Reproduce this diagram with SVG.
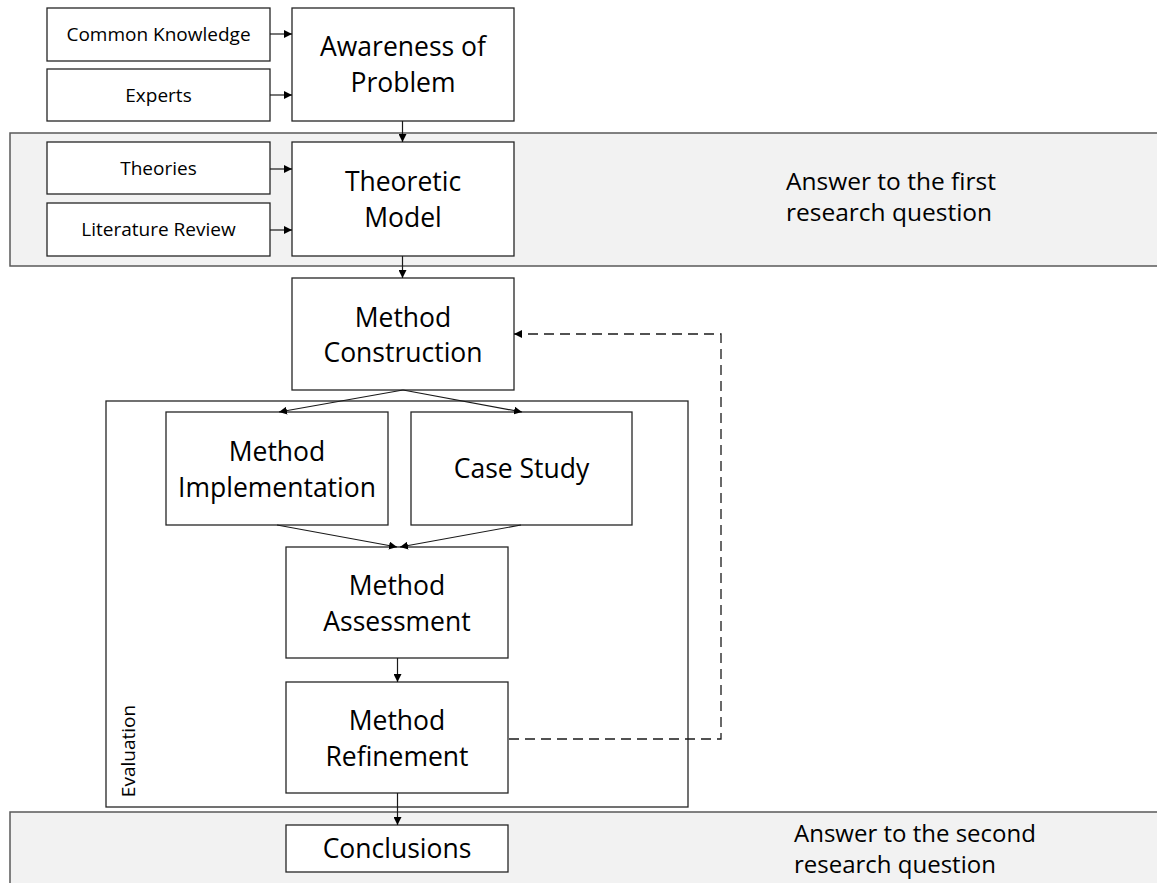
<svg xmlns="http://www.w3.org/2000/svg" width="1157" height="883" viewBox="0 0 1157 883">
  <defs>
    <marker id="arrow" viewBox="0 0 10 10" refX="10" refY="5" markerWidth="8" markerHeight="8" markerUnits="userSpaceOnUse" orient="auto">
      <path d="M0,0 L10,5 L0,10 z" fill="#000"/>
    </marker>
    <style>
      .band { fill: #f2f2f2; stroke: #595959; stroke-width: 1.5; }
      .box { fill: #fff; stroke: #262626; stroke-width: 1.3; }
      .frame { fill: none; stroke: #262626; stroke-width: 1.3; }
      .big { font-family: "Open Sans", "Noto Sans", sans-serif; font-size: 26.5px; fill: #000; text-anchor: middle; }
      .small { font-family: "Open Sans", "Noto Sans", sans-serif; font-size: 19px; fill: #000; text-anchor: middle; }
      .note { font-family: "Open Sans", "Noto Sans", sans-serif; font-size: 24.5px; fill: #000; }
      .edge { fill: none; stroke: #1a1a1a; stroke-width: 1.2; marker-end: url(#arrow); }
      .dash { fill: none; stroke: #1a1a1a; stroke-width: 1.3; stroke-dasharray: 10 6; marker-end: url(#arrow); }
    </style>
  </defs>

  <rect width="1157" height="883" fill="#fff"/>

  <!-- phase bands -->
  <g id="band-first">
    <rect class="band" x="10" y="133" width="1160" height="133"/>
    <text class="note"><tspan x="786" y="190">Answer to the first</tspan><tspan x="786" y="221">research question</tspan></text>
  </g>
  <g id="band-second">
    <rect class="band" x="10" y="812" width="1160" height="90"/>
    <text class="note" style="font-size:24px"><tspan x="794" y="842">Answer to the second</tspan><tspan x="794" y="873">research question</tspan></text>
  </g>

  <!-- evaluation frame -->
  <g id="evaluation">
    <rect class="frame" x="106" y="401" width="582" height="406"/>
    <text class="small" transform="translate(135,751) rotate(-90)">Evaluation</text>
  </g>

  <g id="common-knowledge">
    <rect class="box" x="47" y="8" width="223" height="53"/>
    <text class="small" x="158.5" y="41">Common Knowledge</text>
  </g>
  <g id="experts">
    <rect class="box" x="47" y="69" width="223" height="52"/>
    <text class="small" x="158.5" y="101.5">Experts</text>
  </g>
  <g id="awareness">
    <rect class="box" x="292" y="8" width="222" height="113"/>
    <text class="big"><tspan x="403" y="56">Awareness of</tspan><tspan x="403" y="92">Problem</tspan></text>
  </g>

  <g id="theories">
    <rect class="box" x="47" y="142" width="223" height="52"/>
    <text class="small" x="158.5" y="174.5">Theories</text>
  </g>
  <g id="literature-review">
    <rect class="box" x="47" y="203" width="223" height="53"/>
    <text class="small" x="158.5" y="236">Literature Review</text>
  </g>
  <g id="theoretic-model">
    <rect class="box" x="292" y="142" width="222" height="114"/>
    <text class="big"><tspan x="403" y="190.5">Theoretic</tspan><tspan x="403" y="226.5">Model</tspan></text>
  </g>

  <g id="method-construction">
    <rect class="box" x="292" y="278" width="222" height="112"/>
    <text class="big"><tspan x="403" y="326.5">Method</tspan><tspan x="403" y="362">Construction</tspan></text>
  </g>
  <g id="method-implementation">
    <rect class="box" x="166" y="412" width="222" height="113"/>
    <text class="big"><tspan x="277" y="460.5">Method</tspan><tspan x="277" y="496.5">Implementation</tspan></text>
  </g>
  <g id="case-study">
    <rect class="box" x="411" y="412" width="221" height="113"/>
    <text class="big" x="521.5" y="478">Case Study</text>
  </g>
  <g id="method-assessment">
    <rect class="box" x="286" y="547" width="222" height="111"/>
    <text class="big"><tspan x="397" y="594.5">Method</tspan><tspan x="397" y="630.5">Assessment</tspan></text>
  </g>
  <g id="method-refinement">
    <rect class="box" x="286" y="682" width="222" height="111"/>
    <text class="big"><tspan x="397" y="730">Method</tspan><tspan x="397" y="765.5">Refinement</tspan></text>
  </g>
  <g id="conclusions">
    <rect class="box" x="286" y="825" width="222" height="47"/>
    <text class="big" x="397" y="858">Conclusions</text>
  </g>

  <!-- connectors -->
  <g id="connectors">
    <line class="edge" x1="270" y1="34" x2="292" y2="34"/>
    <line class="edge" x1="270" y1="95" x2="292" y2="95"/>
    <line class="edge" x1="270" y1="169" x2="292" y2="169"/>
    <line class="edge" x1="270" y1="230" x2="292" y2="230"/>
    <line class="edge" x1="402.5" y1="121" x2="402.5" y2="142"/>
    <line class="edge" x1="402.5" y1="256" x2="402.5" y2="278"/>
    <line class="edge" x1="403" y1="390" x2="279" y2="412"/>
    <line class="edge" x1="403" y1="390" x2="522" y2="412"/>
    <line class="edge" x1="277" y1="525" x2="397" y2="547"/>
    <line class="edge" x1="521" y1="525" x2="400" y2="547"/>
    <line class="edge" x1="397.5" y1="658" x2="397.5" y2="682"/>
    <line class="edge" x1="397.5" y1="793" x2="397.5" y2="825"/>
    <polyline class="dash" points="509,739 721,739 721,334 514,334"/>
  </g>
</svg>
